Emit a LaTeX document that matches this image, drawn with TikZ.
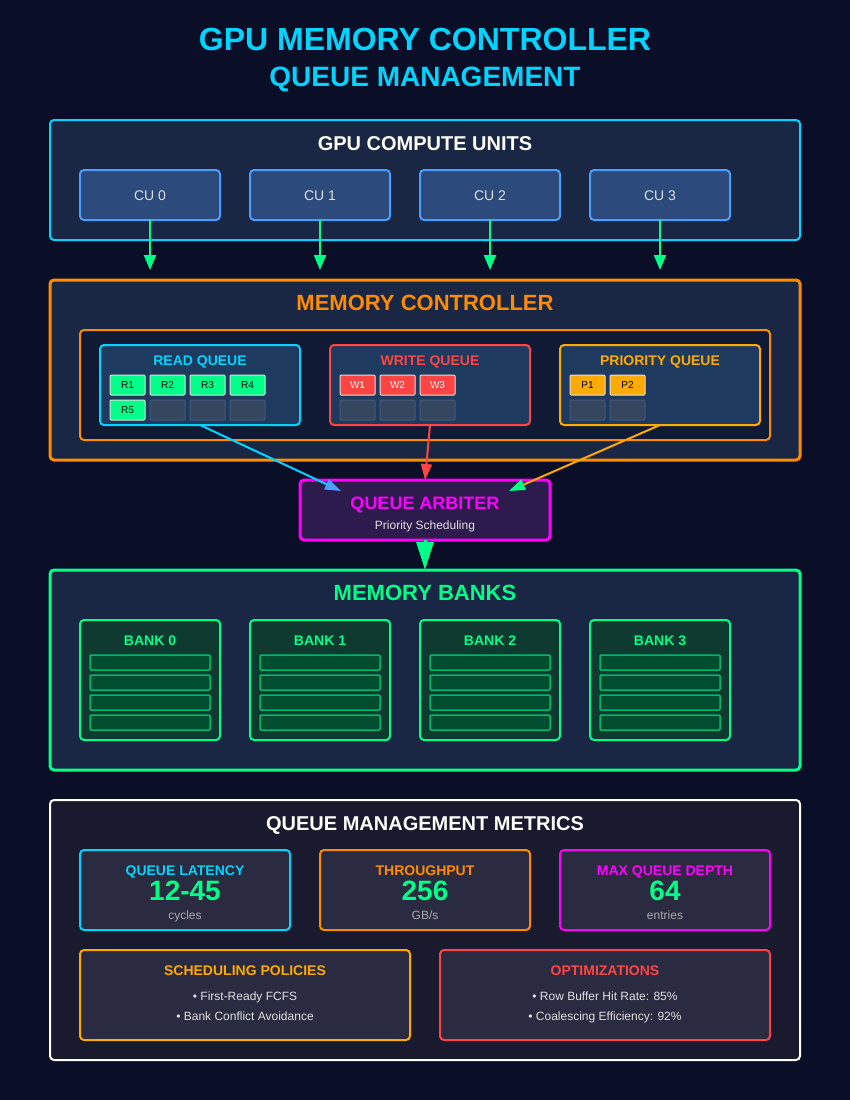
\documentclass[tikz,border=0pt]{standalone}
\usepackage{fontspec}
\setmainfont{Liberation Sans}
\usetikzlibrary{arrows.meta,calc}

\definecolor{bg}{HTML}{0A0E27}
\definecolor{panel}{HTML}{1A2744}
\definecolor{cyanA}{HTML}{00D4FF}
\definecolor{cuFill}{HTML}{2C4A7C}
\definecolor{cuLine}{HTML}{4A9EFF}
\definecolor{greenA}{HTML}{00FF88}
\definecolor{orangeA}{HTML}{FF8C00}
\definecolor{amberA}{HTML}{FFAA00}
\definecolor{redA}{HTML}{FF4444}
\definecolor{magA}{HTML}{FF00FF}
\definecolor{qFill}{HTML}{1E3A5F}
\definecolor{innerFill}{HTML}{101A35}
\definecolor{slotEmpty}{HTML}{34475F}
\definecolor{slotEdge}{HTML}{44587A}
\definecolor{arbFill}{HTML}{2D1B4E}
\definecolor{bankFill}{HTML}{0F3A2F}
\definecolor{rowFill}{HTML}{004D30}
\definecolor{rowEdge}{HTML}{00B86A}
\definecolor{metricsBg}{HTML}{1A1A2E}
\definecolor{cardFill}{HTML}{2A2A40}
\definecolor{softText}{HTML}{E0E0E0}
\definecolor{greyText}{HTML}{AAAAAA}

\newcommand\pxfont[1]{\fontsize{#1}{#1}\selectfont}

\tikzset{
  box/.style={rectangle, rounded corners=4pt, inner sep=0pt, outer sep=0pt},
  slot/.style={rectangle, rounded corners=1pt, inner sep=0pt, outer sep=0pt,
    minimum width=35pt, minimum height=20pt, line width=1pt, font=\pxfont{10}},
  fullslot/.style={slot, draw=softText},
  emptyslot/.style={slot, fill=slotEmpty, draw=slotEdge},
  bankrow/.style={rectangle, rounded corners=1pt, inner sep=0pt, outer sep=0pt,
    minimum width=120pt, minimum height=15pt, fill=rowFill, draw=rowEdge, line width=1.5pt},
  lbl/.style={anchor=base, inner sep=0pt},
  head/.style={lbl, font=\bfseries\pxfont{20}},
  sub/.style={lbl, font=\bfseries\pxfont{14}},
  cuarrow/.style={draw=greenA, line width=2pt, -{Triangle[length=15pt,width=12pt]}},
}

\begin{document}
\begin{tikzpicture}[x=1pt,y=-1pt]
\useasboundingbox (0,0) rectangle (850,1100);
\fill[bg] (0,0) rectangle (850,1100);

% title
\node[lbl, text=cyanA, font=\bfseries\pxfont{32}] (title) at (425,50) {GPU MEMORY CONTROLLER};
\node[lbl, text=cyanA, font=\bfseries\pxfont{28}] (subtitle) at (425,86) {QUEUE MANAGEMENT};

% compute units
\node[box, fill=panel, draw=cyanA, line width=2pt, minimum width=750pt, minimum height=120pt] (gpu) at (425,180) {};
\node[head, text=white] (gpuT) at (425,150) {GPU COMPUTE UNITS};
\foreach \i/\x in {0/150,1/320,2/490,3/660}{
  \node[box, fill=cuFill, draw=cuLine, line width=2pt, minimum width=140pt, minimum height=50pt] (cu\i) at (\x,195) {};
  \node[lbl, text=softText, font=\pxfont{14}] (cu\i T) at (\x,200) {CU \i};
  \coordinate (cu\i end) at (\x,270);
  \draw[cuarrow] (cu\i.south) -- (cu\i end);
}

% memory controller
\node[box, fill=panel, draw=orangeA, line width=3pt, minimum width=750pt, minimum height=180pt] (mc) at (425,370) {};
\node[lbl, text=orangeA, font=\bfseries\pxfont{22}] (mcT) at (425,310) {MEMORY CONTROLLER};
\node[box, fill=innerFill, draw=orangeA, line width=2pt, minimum width=690pt, minimum height=110pt] (mcIn) at (425,385) {};

% read queue
\node[box, fill=qFill, draw=cyanA, line width=2pt, minimum width=200pt, minimum height=80pt] (rq) at (200,385) {};
\node[sub, text=cyanA] (rqT) at (200,365) {READ QUEUE};
\foreach \n/\x in {1/127.5,2/167.5,3/207.5,4/247.5}{
  \node[fullslot, fill=greenA, text=black] (r\n) at (\x,385) {R\n};
}
\node[fullslot, fill=greenA, text=black] (r5) at (127.5,410) {R5};
\foreach \n/\x in {6/167.5,7/207.5,8/247.5}{
  \node[emptyslot] (r\n) at (\x,410) {};
}

% write queue
\node[box, fill=qFill, draw=redA, line width=2pt, minimum width=200pt, minimum height=80pt] (wq) at (430,385) {};
\node[sub, text=redA] (wqT) at (430,365) {WRITE QUEUE};
\foreach \n/\x in {1/357.5,2/397.5,3/437.5}{
  \node[fullslot, fill=redA, text=white] (w\n) at (\x,385) {W\n};
}
\foreach \n/\x in {4/357.5,5/397.5,6/437.5}{
  \node[emptyslot] (w\n) at (\x,410) {};
}

% priority queue
\node[box, fill=qFill, draw=amberA, line width=2pt, minimum width=200pt, minimum height=80pt] (pq) at (660,385) {};
\node[sub, text=amberA] (pqT) at (660,365) {PRIORITY QUEUE};
\foreach \n/\x in {1/587.5,2/627.5}{
  \node[fullslot, fill=amberA, text=black] (p\n) at (\x,385) {P\n};
}
\foreach \n/\x in {3/587.5,4/627.5}{
  \node[emptyslot] (p\n) at (\x,410) {};
}

% arbiter
\node[box, fill=arbFill, draw=magA, line width=3pt, minimum width=250pt, minimum height=60pt] (arb) at (425,510) {};
\node[lbl, text=magA, font=\bfseries\pxfont{18}] (arbT) at (425,509.5) {QUEUE ARBITER};
\node[lbl, text=softText, font=\pxfont{12}] (arbS) at (425,529) {Priority Scheduling};

\coordinate (arbR) at (341,491);
\coordinate (arbW) at (425,480);
\coordinate (arbP) at (509,491);
\draw[draw=cyanA, line width=2pt, -{Triangle[length=16pt,width=11pt,color=cuLine,fill=cuLine]}] (rq.south) -- (arbR);
\draw[draw=redA, line width=2pt, -{Triangle[length=16pt,width=11pt]}] (wq.south) -- (arbW);
\draw[draw=amberA, line width=2pt, -{Triangle[length=16pt,width=11pt,color=greenA,fill=greenA]}] (pq.south) -- (arbP);

% memory banks
\node[box, fill=panel, draw=greenA, line width=3pt, minimum width=750pt, minimum height=200pt] (mb) at (425,670) {};
\node[lbl, text=greenA, font=\bfseries\pxfont{22}] (mbT) at (425,600) {MEMORY BANKS};
\draw[draw=greenA, line width=3pt, -{Triangle[length=28pt,width=17pt]}] (arb.south) -- (mb.north);
\foreach \i/\x in {0/150,1/320,2/490,3/660}{
  \node[box, fill=bankFill, draw=greenA, line width=2pt, minimum width=140pt, minimum height=120pt] (bank\i) at (\x,680) {};
  \node[sub, text=greenA] (bank\i T) at (\x,645) {BANK \i};
  \foreach \r/\y in {0/662.5,1/682.5,2/702.5,3/722.5}{
    \node[bankrow] (bank\i r\r) at (\x,\y) {};
  }
}

% metrics
\node[box, fill=metricsBg, draw=white, line width=2pt, minimum width=750pt, minimum height=260pt] (met) at (425,930) {};
\node[head, text=white] (metT) at (425,830) {QUEUE MANAGEMENT METRICS};
\foreach \k/\x/\c/\t/\v/\u in {lat/185/cyanA/QUEUE LATENCY/12-45/cycles,
                                thr/425/orangeA/THROUGHPUT/256/GB\slash s,
                                dep/665/magA/MAX QUEUE DEPTH/64/entries}{
  \node[box, fill=cardFill, draw=\c, line width=2pt, minimum width=210pt, minimum height=80pt] (\k) at (\x,890) {};
  \node[sub, text=\c] (\k T) at (\x,875) {\t};
  \node[lbl, text=greenA, font=\bfseries\pxfont{28}] (\k V) at (\x,900) {\v};
  \node[lbl, text=greyText, font=\pxfont{12}] (\k U) at (\x,919) {\u};
}

\node[box, fill=cardFill, draw=amberA, line width=2pt, minimum width=330pt, minimum height=90pt] (pol) at (245,995) {};
\node[sub, text=amberA] (polT) at (245,975) {SCHEDULING POLICIES};
\node[lbl, text=softText, font=\pxfont{12}] (pol1) at (245,1000) {• First-Ready FCFS};
\node[lbl, text=softText, font=\pxfont{12}] (pol2) at (245,1020) {• Bank Conflict Avoidance};

\node[box, fill=cardFill, draw=redA, line width=2pt, minimum width=330pt, minimum height=90pt] (opt) at (605,995) {};
\node[sub, text=redA] (optT) at (605,975) {OPTIMIZATIONS};
\node[lbl, text=softText, font=\pxfont{12}] (opt1) at (605,1000) {• Row Buffer Hit Rate: 85\%};
\node[lbl, text=softText, font=\pxfont{12}] (opt2) at (605,1020) {• Coalescing Efficiency: 92\%};
\end{tikzpicture}
\end{document}
